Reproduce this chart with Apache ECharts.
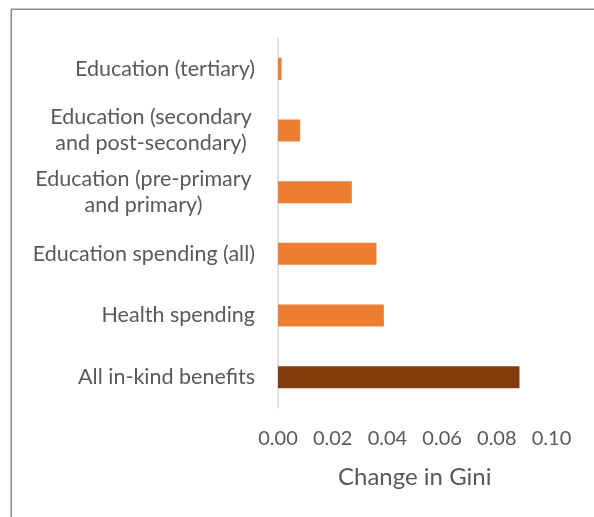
<!DOCTYPE html>
<html>
<head>
<meta charset="utf-8">
<script src="https://cdn.jsdelivr.net/npm/echarts@6/dist/echarts.min.js"></script>
<style>
html,body{margin:0;padding:0;background:#fff;}
#chart{width:594px;height:517px;}
</style>
</head>
<body>
<div id="chart"></div>
<script>
// Categories listed top to bottom
const categories = [
  'Education (tertiary)',
  'Education (secondary\nand post-secondary)',
  'Education (pre-primary\nand primary)',
  'Education spending (all)',
  'Health spending',
  'All in-kind benefits'
];
const giniChange = [0.0013, 0.0081, 0.027, 0.036, 0.0387, 0.0883];
const highlightCategory = 'All in-kind benefits';
const xTicks = { min: 0, max: 0.1, interval: 0.02 };
const axisTitle = 'Change in Gini';

const FONT = 'Lato';
const TEXT = '#595959';
const LABEL_SIZE = 21.5;

// measure multi-line label widths so wrapped lines are centred in their own block
const ctx = document.createElement('canvas').getContext('2d');
ctx.font = LABEL_SIZE + 'px ' + FONT;
function blockWidth(s){ return Math.max.apply(null, s.split('\n').map(l => ctx.measureText(l).width)); }

const rich = {};
categories.forEach((c, i) => {
  if (c.indexOf('\n') >= 0) {
    rich['m' + i] = { fontFamily: FONT, fontSize: LABEL_SIZE, color: TEXT, lineHeight: 26,
      align: 'center', width: Math.ceil(blockWidth(c)) + 6 };
  }
});

const chart = echarts.init(document.getElementById('chart'), null, {renderer: 'canvas'});
chart.setOption({
  animation: false,
  backgroundColor: '#fff',
  textStyle: { fontFamily: FONT, color: TEXT },
  graphic: [{
    type: 'rect', silent: true,
    shape: { x: 11.25, y: 9.25, width: 800, height: 800 },
    style: { fill: 'none', stroke: '#8a8a8a', lineWidth: 1.5 }
  }],
  grid: { left: 278, right: 42.5, top: 38, bottom: 109, containLabel: false },
  xAxis: {
    type: 'value', min: xTicks.min, max: xTicks.max, interval: xTicks.interval,
    name: axisTitle, nameLocation: 'middle', nameGap: 57,
    nameTextStyle: { fontFamily: FONT, fontSize: 24, color: TEXT },
    axisLine: { show: false }, axisTick: { show: false }, splitLine: { show: false },
    axisLabel: { fontFamily: FONT, fontSize: 20, color: TEXT, margin: 21,
      formatter: v => v.toFixed(2) }
  },
  yAxis: {
    type: 'category', data: categories, inverse: true,
    axisLine: { show: true, lineStyle: { color: '#d9d9d9', width: 1.5 } },
    axisTick: { show: false },
    axisLabel: {
      fontFamily: FONT, fontSize: LABEL_SIZE, color: TEXT, margin: 23, lineHeight: 26,
      formatter: function (v, idx) {
        if (v.indexOf('\n') < 0) return v;
        const key = 'm' + categories.indexOf(v);
        return v.split('\n').map(l => '{' + key + '|' + l + '}').join('\n');
      },
      rich: rich
    }
  },
  series: [{
    type: 'bar', barWidth: 22,
    data: giniChange.map((v, i) => ({
      value: v,
      itemStyle: { color: categories[i] === highlightCategory ? '#843C0C' : '#ED7D31' }
    }))
  }]
});
</script>
</body>
</html>
